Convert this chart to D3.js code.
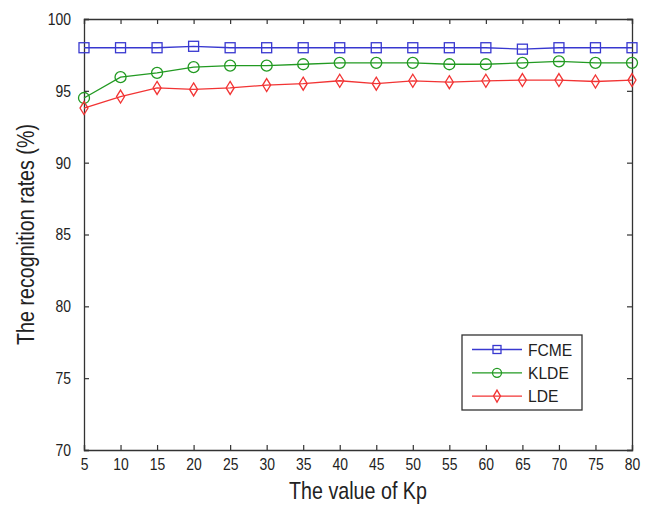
<!DOCTYPE html>
<html><head><meta charset="utf-8">
<script src="https://cdn.jsdelivr.net/npm/d3@7/dist/d3.min.js"></script>
<style>body{margin:0;background:#fff}svg{display:block}text{font-family:"Liberation Sans",Arial,sans-serif}</style>
</head><body>
<script>
const kp = [5,10,15,20,25,30,35,40,45,50,55,60,65,70,75,80];
const fcme = [98.0,98.0,98.0,98.1,98.0,98.0,98.0,98.0,98.0,98.0,98.0,98.0,97.9,98.0,98.0,98.0];
const klde = [94.5,95.95,96.25,96.65,96.75,96.75,96.85,96.95,96.95,96.95,96.85,96.85,96.95,97.05,96.95,96.95];
const lde  = [93.8,94.6,95.2,95.1,95.2,95.4,95.5,95.7,95.5,95.7,95.6,95.7,95.75,95.75,95.65,95.75];
const yTicks = [70,75,80,85,90,95,100];
const seriesNames = ["FCME","KLDE","LDE"];

const SX=0.82;
const W=649,H=509, L=84, R=632, T=19, B=450;
const svg=d3.select("body").append("svg").attr("width",W).attr("height",H);
const x=d3.scaleLinear().domain([5,80]).range([L,R]);
const y=d3.scaleLinear().domain([70,100]).range([B,T]);

const series=[
 {name:seriesNames[0],vals:fcme,color:"#3838d0",marker:"square"},
 {name:seriesNames[1],vals:klde,color:"#229a22",marker:"circle"},
 {name:seriesNames[2],vals:lde,color:"#f23434",marker:"diamond"}];

const tl=5;
const gx=svg.append("g").attr("transform",`translate(0,${B})`).call(d3.axisBottom(x).tickValues(kp).tickSize(-tl).tickPadding(8).tickFormat(d3.format("d")));
const gxt=svg.append("g").attr("transform",`translate(0,${T})`).call(d3.axisTop(x).tickValues(kp).tickSize(-tl).tickFormat(""));
const gy=svg.append("g").attr("transform",`translate(${L},0)`).call(d3.axisLeft(y).tickValues(yTicks).tickSize(-tl).tickPadding(13));
const gyr=svg.append("g").attr("transform",`translate(${R},0)`).call(d3.axisRight(y).tickValues(yTicks).tickSize(-tl).tickFormat(""));
[gx,gxt,gy,gyr].forEach(g=>{
  g.select(".domain").attr("stroke","#333").attr("stroke-width",1.3);
  g.selectAll(".tick line").attr("stroke","#333").attr("stroke-width",1.2);
  g.selectAll("text").attr("font-size",17).attr("fill","#222");
});
gx.selectAll(".tick text").attr("transform",`scale(${SX},1)`);
gy.selectAll(".tick text").attr("x",-13/SX).attr("transform",`scale(${SX},1)`);

function marker(g,type,cx,cy,color){
  if(type==="square") g.append("rect").attr("x",cx-5).attr("y",cy-5).attr("width",10).attr("height",10);
  else if(type==="circle") g.append("circle").attr("cx",cx).attr("cy",cy).attr("r",5.5);
  else g.append("path").attr("d",`M${cx},${cy-6.5}L${cx+4},${cy}L${cx},${cy+6.5}L${cx-4},${cy}Z`);
  g.selectAll("*").attr("fill","none").attr("stroke",color).attr("stroke-width",1.3);
}

const line=d3.line().x((d,i)=>x(kp[i])).y(d=>y(d));
series.forEach(s=>{
  svg.append("path").datum(s.vals).attr("d",line).attr("fill","none").attr("stroke",s.color).attr("stroke-width",1.3);
  s.vals.forEach((v,i)=>marker(svg.append("g"),s.marker,x(kp[i]),y(v),s.color));
});

svg.append("text").attr("transform",`translate(${(L+R)/2},499) scale(${SX},1)`).attr("text-anchor","middle").attr("font-size",24).attr("fill","#222").text("The value of Kp");
svg.append("text").attr("transform",`translate(34,${(T+B)/2}) rotate(-90) scale(${SX},1)`).attr("text-anchor","middle").attr("font-size",24).attr("fill","#222").text("The recognition rates (%)");

const lg=svg.append("g");
lg.append("rect").attr("x",462).attr("y",335).attr("width",120).attr("height",75).attr("fill","#fff").attr("stroke","#333").attr("stroke-width",1.3);
series.forEach((s,i)=>{
  const yy=349.5+i*23.3;
  lg.append("line").attr("x1",472).attr("x2",522).attr("y1",yy).attr("y2",yy).attr("stroke",s.color).attr("stroke-width",1.3);
  const m=lg.append("g");
  if(s.marker==="square") m.append("rect").attr("x",497-4).attr("y",yy-4).attr("width",8).attr("height",8);
  else if(s.marker==="circle") m.append("circle").attr("cx",497).attr("cy",yy).attr("r",4.5);
  else m.append("path").attr("d",`M497,${yy-6}L500.5,${yy}L497,${yy+6}L493.5,${yy}Z`);
  m.selectAll("*").attr("fill","none").attr("stroke",s.color).attr("stroke-width",1.3);
  lg.append("text").attr("transform",`translate(528,${yy+6}) scale(0.92,1)`).attr("font-size",17).attr("fill","#222").text(s.name);
});
</script>
</body></html>
